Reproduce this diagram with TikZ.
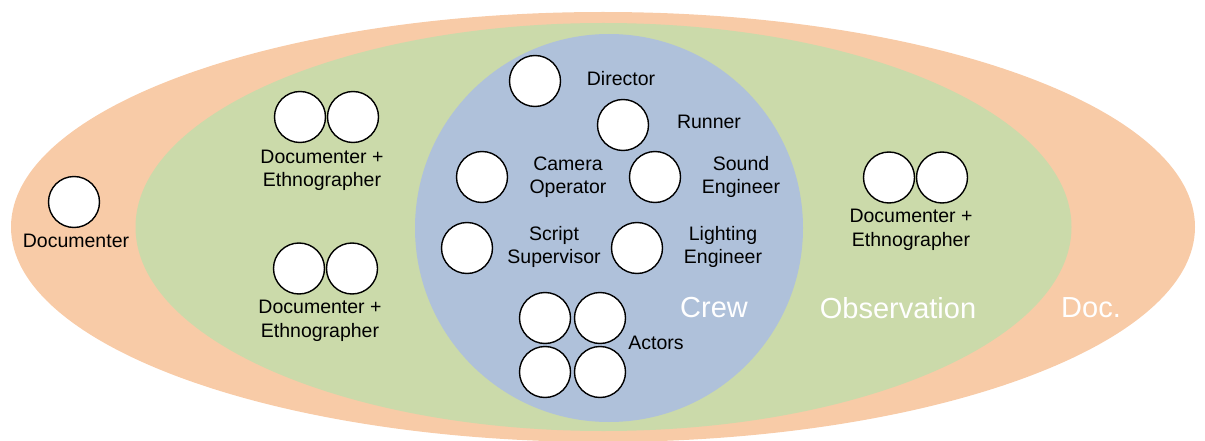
\documentclass[tikz,border=0pt]{standalone}
\usepackage{fontspec}
\setmainfont{Liberation Sans}
\definecolor{docfill}{RGB}{248,203,167}
\definecolor{obsfill}{RGB}{203,218,170}
\definecolor{crewfill}{RGB}{175,193,218}
\tikzset{
  person/.style={circle, draw=black, line width=1.4pt, fill=white, minimum size=51pt, inner sep=0pt},
  role/.style={inner sep=0pt, align=center, text=black, font=\fontsize{19.5}{23.5}\selectfont},
  zone/.style={inner sep=0pt, text=white, font=\fontsize{29}{34}\selectfont}
}
\begin{document}
\begin{tikzpicture}[x=1pt, y=-1pt]
\useasboundingbox (0,0) rectangle (1205,441);

% nested areas: documentation, observation, crew
\fill[docfill] (603,227) ellipse [x radius=592pt, y radius=215pt];
\fill[obsfill] (603.5,227) ellipse [x radius=468pt, y radius=204pt];
\fill[crewfill] (609,228) circle [radius=194pt];

% documentation zone
\node[person] (doc) at (74,202) {};
\node[role] (doclbl) at (76,241) {Documenter};

% observation zone: documenter + ethnographer pairs
\node[person] (lta) at (300,117) {};
\node[person] (ltb) at (353,117) {};
\node[role] (ltlbl) at (322,170.5) {Documenter +\\Ethnographer};

\node[person] (lba) at (299,268.5) {};
\node[person] (lbb) at (352,268.5) {};
\node[role] (lblbl) at (320,321) {Documenter +\\Ethnographer};

\node[person] (rta) at (889,177.5) {};
\node[person] (rtb) at (942,177.5) {};
\node[role] (rtlbl) at (911,230) {Documenter +\\Ethnographer};

% crew zone
\node[person] (dir) at (535,81) {};
\node[role] (dirlbl) at (621,79) {Director};

\node[person] (run) at (623,125) {};
\node[role] (runlbl) at (709,122) {Runner};

\node[person] (cam) at (482,177) {};
\node[role] (camlbl) at (568,177) {Camera\\Operator};

\node[person] (snd) at (655,177) {};
\node[role] (sndlbl) at (741,177) {Sound\\Engineer};

\node[person] (scr) at (467,248) {};
\node[role] (scrlbl) at (554,247) {Script\\Supervisor};

\node[person] (lgt) at (637,248) {};
\node[role] (lgtlbl) at (723,247) {Lighting\\Engineer};

\node[person] (acta) at (545,318) {};
\node[person] (actb) at (600,318) {};
\node[person] (actc) at (545,372) {};
\node[person] (actd) at (600,372) {};
\node[role] (actlbl) at (656,343) {Actors};

% zone titles
\node[zone] (crew) at (714,308) {Crew};
\node[zone] (obs) at (898,308) {Observation};
\node[zone] (docz) at (1091,308) {Doc.};
\end{tikzpicture}
\end{document}
